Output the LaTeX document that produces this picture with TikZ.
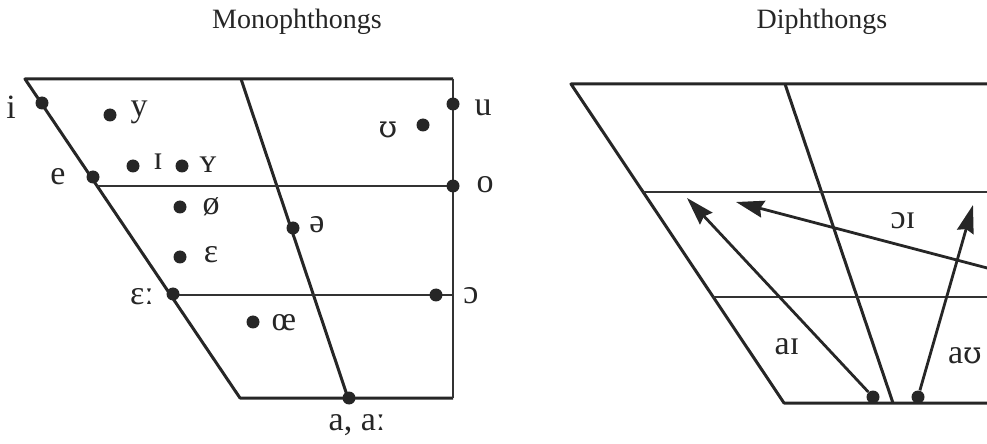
\documentclass[tikz,border=0pt]{standalone}
\usepackage{fontspec}
\setmainfont{Liberation Serif}
\newfontfamily\ipaalt{DejaVu Serif}
\usetikzlibrary{arrows.meta, positioning, calc}

\begin{document}
\begin{tikzpicture}[
    x=0.5pt,
    y=-0.5pt,
    frame/.style={line width=1.5pt, color=black!85, line join=round},
    level/.style={line width=1.1pt, color=black!80},
    vowel/.style={circle, fill=black!85, inner sep=0pt, minimum size=6.5pt},
    ipa/.style={font=\fontsize{17}{17}\selectfont, inner sep=0pt,
                text=black!85},
    heading/.style={font=\fontsize{14}{14}\selectfont, inner sep=0pt,
                    text=black!85},
    glide/.style={-{Stealth[length=14pt, width=8.5pt, inset=1.5pt]},
                  line width=1.4pt, color=black!85},
]
\clip (0,0) rectangle (987,444);

% headings
\node[heading] (mono) at (297,22) {Monophthongs};
\node[heading] (diph) at (822,22) {Diphthongs};

% monophthong chart
\coordinate (mTL) at (25,79);
\coordinate (mTM) at (241,79);
\coordinate (mTR) at (453,79);
\coordinate (mBL) at (240,398);
\coordinate (mBM) at (348,398);
\coordinate (mBR) at (453,398);
\draw[frame] (mBR) -- (mBL) -- (mTL) -- (mTR);
\draw[level] (mTR) -- (mBR);
\draw[frame] (mTM) -- (mBM);
\draw[level] ($(mTL)!0.335!(mBL)$) -- ($(mTR)!0.335!(mBR)$);
\draw[level] ($(mTL)!0.677!(mBL)$) -- ($(mTR)!0.677!(mBR)$);

\node[vowel] (vi)  at (42,103)  {};  \node[ipa] (li)  at (11,107)  {i};
\node[vowel] (vy)  at (110,115) {};  \node[ipa] (ly)  at (139,112) {y};
\node[vowel] (vI)  at (133,166) {};  \node[ipa] (lI)  at (158,162) {ɪ};
\node[vowel] (vY)  at (182,166) {};  \node[ipa] (lY)  at (208,165) {ʏ};
\node[vowel] (ve)  at (93,177)  {};  \node[ipa] (le)  at (58,177)  {e};
\node[vowel] (vo2) at (180,207) {};  \node[ipa] (lo2) at (211,207) {ø};
\node[vowel] (vE)  at (180,257) {};  \node[ipa] (lE)  at (211,255) {ɛ};
\node[vowel] (vEE) at (173,294) {};  \node[ipa] (lEE) at (142,297) {ɛː};
\node[vowel] (voe) at (253,322) {};  \node[ipa] (loe) at (284,323) {œ};
\node[vowel] (vsw) at (293,228) {};  \node[ipa] (lsw) at (317,225) {ə};
\node[vowel] (va)  at (349,398) {};  \node[ipa] (la)  at (357,425) {a, aː};
\node[vowel] (vu)  at (453,104) {};  \node[ipa] (lu)  at (483,108) {u};
\node[vowel] (vU)  at (423,125) {};
\node[ipa, font=\ipaalt\fontsize{15}{15}\selectfont] (lU) at (388,130) {ʊ};
\node[vowel] (vo)  at (453,186) {};  \node[ipa] (lo)  at (485,185) {o};
\node[vowel] (vO)  at (436,295) {};  \node[ipa] (lO)  at (471,296) {ɔ};

% diphthong chart
\coordinate (dTL) at (571,84);
\coordinate (dTM) at (785,84);
\coordinate (dTR) at (1000,84);
\coordinate (dBL) at (784,403);
\coordinate (dBM) at (893,403);
\coordinate (dBR) at (1000,403);
\draw[frame] (dBR) -- (dBL) -- (dTL) -- (dTR);
\draw[frame] (dTM) -- (dBM);
\draw[level] ($(dTL)!0.339!(dBL)$) -- ($(dTR)!0.339!(dBR)$);
\draw[level] ($(dTL)!0.668!(dBL)$) -- ($(dTR)!0.668!(dBR)$);

\node[vowel] (ai-start) at (873,397) {};
\node[vowel] (au-start) at (918,397) {};
\coordinate (ai-end)   at (687,198);
\coordinate (au-end)   at (973,205);
\coordinate (oi-start) at (1010,274);
\coordinate (oi-end)   at (736,202);

\draw[glide] (ai-start) -- (ai-end);
\draw[glide] (au-start) -- (au-end);
\draw[glide] (oi-start) -- (oi-end);

\node[ipa] (lai) at (787,347) {aɪ};
\node[ipa] (lau) at (965,356) {a{\ipaalt\fontsize{15}{15}\selectfont ʊ}};
\node[ipa] (loi) at (903,221) {ɔɪ};
\end{tikzpicture}
\end{document}
